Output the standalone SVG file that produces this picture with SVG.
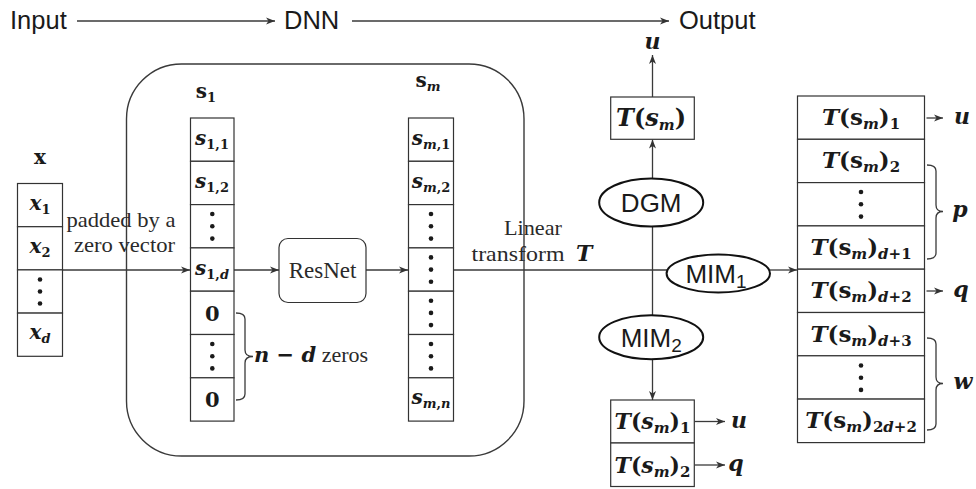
<svg xmlns="http://www.w3.org/2000/svg" width="976" height="489" viewBox="0 0 976 489">
<defs>
<marker id="ah" markerWidth="10" markerHeight="8" refX="9" refY="4" orient="auto" markerUnits="userSpaceOnUse">
<path d="M0,0.5 L9,4 L0,7.5 L2.5,4 z" fill="#333"/>
</marker>
<style>
.cell{fill:#fff;stroke:#333;stroke-width:1.2}
.ln{fill:none;stroke:#3a3a3a;stroke-width:1.3}
.arr{fill:none;stroke:#3a3a3a;stroke-width:1.3;marker-end:url(#ah)}
.ell{fill:#fff;stroke:#111;stroke-width:2}
.sans{font-family:"Liberation Sans",Arial,sans-serif;font-size:25.5px;fill:#1a1a1a}
.ser{font-family:"Liberation Serif","Times New Roman",serif;font-size:21px;fill:#2a2a2a}
.m{font-family:"DejaVu Serif",serif;font-weight:bold;font-style:italic;font-size:20px;fill:#1a1a1a}
.mb{font-family:"DejaVu Serif",serif;font-weight:bold;font-size:20px;fill:#1a1a1a}
.u{font-style:normal}
.s{font-size:13px}
.t{font-size:23px}
.ts{font-size:15px}
.lbl{font-size:22px}
.dot{fill:#1a1a1a}
</style>
</defs>
<rect width="976" height="489" fill="#fff"/>

<g id="connectors">
<line class="arr" x1="77" y1="21" x2="275" y2="21"/>
<line class="arr" x1="352" y1="21" x2="669" y2="21"/>
<line class="arr" x1="62.5" y1="270" x2="190" y2="270"/>
<line class="arr" x1="234" y1="270" x2="279" y2="270"/>
<line class="arr" x1="366" y1="270" x2="408" y2="270"/>
<line class="ln" x1="453.5" y1="270" x2="667" y2="270"/>
<line class="ln" x1="652.5" y1="226.5" x2="652.5" y2="315"/>
<line class="arr" x1="652.5" y1="178.5" x2="652.5" y2="139.5"/>
<line class="arr" x1="652.5" y1="97" x2="652.5" y2="55"/>
<line class="arr" x1="770" y1="270" x2="797" y2="270"/>
<line class="arr" x1="652.5" y1="359.5" x2="652.5" y2="400"/>
<line class="arr" x1="694.5" y1="421.5" x2="725" y2="421.5"/>
<line class="arr" x1="694.5" y1="465" x2="725" y2="465"/>
<line class="arr" x1="926.5" y1="118" x2="943" y2="118"/>
<line class="arr" x1="926.5" y1="291" x2="943" y2="291"/>
<path class="ln" d="M236,313 Q245,313 245,319 L245,350 Q245,356.5 253,356.5 Q245,356.5 245,363 L245,394 Q245,400 236,400"/>
<path class="ln" d="M927,165 Q936,165 936,171 L936,205 Q936,211.5 943,211.5 Q936,211.5 936,218 L936,253 Q936,259 927,259"/>
<path class="ln" d="M927,338 Q936,338 936,344 L936,377 Q936,383.5 943,383.5 Q936,383.5 936,390 L936,424 Q936,430 927,430"/>
</g>

<g id="flow-labels">
<text class="sans" x="10" y="29">Input</text>
<text class="sans" x="284" y="29">DNN</text>
<text class="sans" x="679" y="29">Output</text>
</g>

<g id="dnn-box">
<rect x="126.5" y="64" width="397.5" height="392" rx="55" ry="55" fill="none" stroke="#3a3a3a" stroke-width="1.4"/>
</g>

<g id="x-vector">
<text class="mb" x="40" y="164" text-anchor="middle">x</text>
<rect class="cell" x="17.5" y="183.5" width="45" height="43.2"/>
<rect class="cell" x="17.5" y="226.7" width="45" height="43.2"/>
<rect class="cell" x="17.5" y="269.9" width="45" height="43.2"/>
<rect class="cell" x="17.5" y="313.1" width="45" height="43.2"/>
<text class="m" x="40" y="210" text-anchor="middle">x<tspan class="s u" dy="4">1</tspan></text>
<text class="m" x="40" y="253" text-anchor="middle">x<tspan class="s u" dy="4">2</tspan></text>
<circle class="dot" cx="40" cy="279.5" r="2.3"/><circle class="dot" cx="40" cy="291.5" r="2.3"/><circle class="dot" cx="40" cy="303.5" r="2.3"/>
<text class="m" x="40" y="339" text-anchor="middle">x<tspan class="s" dy="4">d</tspan></text>
</g>

<g id="pad-label">
<text class="ser" x="121" y="227" text-anchor="middle" textLength="109" lengthAdjust="spacingAndGlyphs">padded by a</text>
<text class="ser" x="124.5" y="252" text-anchor="middle" textLength="101" lengthAdjust="spacingAndGlyphs">zero vector</text>
</g>

<g id="s1-vector">
<text class="mb" x="206" y="98" text-anchor="middle">s<tspan class="s" dy="4">1</tspan></text>
<rect class="cell" x="190.5" y="118" width="43.5" height="43.3"/>
<rect class="cell" x="190.5" y="161.3" width="43.5" height="43.3"/>
<rect class="cell" x="190.5" y="204.6" width="43.5" height="43.3"/>
<rect class="cell" x="190.5" y="247.9" width="43.5" height="43.3"/>
<rect class="cell" x="190.5" y="291.2" width="43.5" height="43.3"/>
<rect class="cell" x="190.5" y="334.5" width="43.5" height="43.3"/>
<rect class="cell" x="190.5" y="377.8" width="43.5" height="43.3"/>
<text class="m" x="212" y="145" text-anchor="middle">s<tspan class="s u" dy="4">1,1</tspan></text>
<text class="m" x="212" y="188" text-anchor="middle">s<tspan class="s u" dy="4">1,2</tspan></text>
<circle class="dot" cx="212.3" cy="214" r="2.3"/><circle class="dot" cx="212.3" cy="226.3" r="2.3"/><circle class="dot" cx="212.3" cy="238.6" r="2.3"/>
<text class="m" x="212" y="274.5" text-anchor="middle">s<tspan class="s u" dy="4">1,</tspan><tspan class="s">d</tspan></text>
<text class="mb" x="212.3" y="320.5" text-anchor="middle" style="font-size:21px">0</text>
<circle class="dot" cx="212.3" cy="344" r="2.3"/><circle class="dot" cx="212.3" cy="356.2" r="2.3"/><circle class="dot" cx="212.3" cy="368.4" r="2.3"/>
<text class="mb" x="212.3" y="407" text-anchor="middle" style="font-size:21px">0</text>
</g>

<g id="zeros-label">
<text class="m" x="254" y="362" style="font-size:21px">n − d<tspan class="ser" style="font-size:22px;font-weight:normal;font-style:normal"> zeros</tspan></text>
</g>

<g id="resnet">
<rect x="279" y="238.5" width="87" height="64" rx="9" ry="9" fill="#fff" stroke="#333" stroke-width="1.2"/>
<text class="ser" x="322.5" y="278" text-anchor="middle" style="font-size:23px">ResNet</text>
</g>

<g id="sm-vector">
<text class="mb" x="428" y="87" text-anchor="middle">s<tspan class="s" style="font-style:italic" dy="4">m</tspan></text>
<rect class="cell" x="408.5" y="118" width="45" height="43.3"/>
<rect class="cell" x="408.5" y="161.3" width="45" height="43.3"/>
<rect class="cell" x="408.5" y="204.6" width="45" height="43.3"/>
<rect class="cell" x="408.5" y="247.9" width="45" height="43.3"/>
<rect class="cell" x="408.5" y="291.2" width="45" height="43.3"/>
<rect class="cell" x="408.5" y="334.5" width="45" height="43.3"/>
<rect class="cell" x="408.5" y="377.8" width="45" height="43.3"/>
<text class="m" x="431" y="145" text-anchor="middle">s<tspan class="s" dy="4">m</tspan><tspan class="s u">,1</tspan></text>
<text class="m" x="431" y="188" text-anchor="middle">s<tspan class="s" dy="4">m</tspan><tspan class="s u">,2</tspan></text>
<circle class="dot" cx="431" cy="214" r="2.3"/><circle class="dot" cx="431" cy="226.3" r="2.3"/><circle class="dot" cx="431" cy="238.6" r="2.3"/>
<circle class="dot" cx="431" cy="257.4" r="2.3"/><circle class="dot" cx="431" cy="269.6" r="2.3"/><circle class="dot" cx="431" cy="281.8" r="2.3"/>
<circle class="dot" cx="431" cy="300.7" r="2.3"/><circle class="dot" cx="431" cy="312.9" r="2.3"/><circle class="dot" cx="431" cy="325.1" r="2.3"/>
<circle class="dot" cx="431" cy="344" r="2.3"/><circle class="dot" cx="431" cy="356.2" r="2.3"/><circle class="dot" cx="431" cy="368.4" r="2.3"/>
<text class="m" x="431" y="404" text-anchor="middle">s<tspan class="s" dy="4">m</tspan><tspan class="s u">,</tspan><tspan class="s">n</tspan></text>
</g>

<g id="transform-label">
<text class="ser" x="533" y="235" text-anchor="middle" textLength="58" lengthAdjust="spacingAndGlyphs">Linear</text>
<text class="ser" x="518" y="261" text-anchor="middle" textLength="93" lengthAdjust="spacingAndGlyphs">transform</text>
<text class="m" x="576" y="261" style="font-size:22px">T</text>
</g>

<g id="tsm-box">
<text class="m lbl" x="652.5" y="49" text-anchor="middle">u</text>
<rect class="cell" x="610.7" y="97" width="83.6" height="42.3"/>
<text class="m" x="651" y="126" text-anchor="middle" style="font-size:24px">T<tspan class="u">(</tspan>s<tspan class="ts" dy="4">m</tspan><tspan class="u" dy="-4">)</tspan></text>
</g>

<g id="dgm">
<ellipse class="ell" cx="651.2" cy="202.5" rx="52" ry="24"/>
<text class="sans" x="651.2" y="212" text-anchor="middle" style="font-size:26px">DGM</text>
</g>

<g id="mim1">
<ellipse class="ell" cx="718.3" cy="273.5" rx="51.7" ry="19"/>
<text class="sans" x="716" y="283" text-anchor="middle" style="font-size:26px">MIM<tspan style="font-size:19px" dy="5">1</tspan></text>
</g>

<g id="mim2">
<ellipse class="ell" cx="651.2" cy="337.2" rx="52" ry="22"/>
<text class="sans" x="651.2" y="347" text-anchor="middle" style="font-size:26px">MIM<tspan style="font-size:19px" dy="5">2</tspan></text>
</g>

<g id="bottom-box">
<rect class="cell" x="610.7" y="400" width="83.6" height="43"/>
<rect class="cell" x="610.7" y="443" width="83.6" height="43.5"/>
<text class="m" x="652.5" y="429" text-anchor="middle" style="font-size:22px">T<tspan class="u">(</tspan>s<tspan class="ts" dy="4">m</tspan><tspan class="u" dy="-4">)</tspan><tspan class="ts u" dy="4">1</tspan></text>
<text class="m" x="652.5" y="472.5" text-anchor="middle" style="font-size:22px">T<tspan class="u">(</tspan>s<tspan class="ts" dy="4">m</tspan><tspan class="u" dy="-4">)</tspan><tspan class="ts u" dy="4">2</tspan></text>
<text class="m lbl" x="739" y="428" text-anchor="middle">u</text>
<text class="m lbl" x="736" y="471" text-anchor="middle">q</text>
</g>

<g id="right-table">
<rect class="cell" x="797.5" y="96" width="127" height="43.3"/>
<rect class="cell" x="797.5" y="139.3" width="127" height="43.3"/>
<rect class="cell" x="797.5" y="182.6" width="127" height="43.3"/>
<rect class="cell" x="797.5" y="225.9" width="127" height="43.3"/>
<rect class="cell" x="797.5" y="269.2" width="127" height="43.3"/>
<rect class="cell" x="797.5" y="312.5" width="127" height="43.3"/>
<rect class="cell" x="797.5" y="355.8" width="127" height="43.3"/>
<rect class="cell" x="797.5" y="399.1" width="127" height="43.5"/>
<text class="m t" x="861" y="125" text-anchor="middle">T<tspan class="u">(s</tspan><tspan class="ts" dy="4">m</tspan><tspan class="u" dy="-4">)</tspan><tspan class="ts u" dy="4">1</tspan></text>
<text class="m t" x="861" y="168" text-anchor="middle">T<tspan class="u">(s</tspan><tspan class="ts" dy="4">m</tspan><tspan class="u" dy="-4">)</tspan><tspan class="ts u" dy="4">2</tspan></text>
<circle class="dot" cx="861" cy="192" r="2.3"/><circle class="dot" cx="861" cy="204.3" r="2.3"/><circle class="dot" cx="861" cy="216.6" r="2.3"/>
<text class="m t" x="861" y="254.5" text-anchor="middle">T<tspan class="u">(s</tspan><tspan class="ts" dy="4">m</tspan><tspan class="u" dy="-4">)</tspan><tspan class="ts" dy="4">d</tspan><tspan class="ts u">+1</tspan></text>
<text class="m t" x="861" y="298" text-anchor="middle">T<tspan class="u">(s</tspan><tspan class="ts" dy="4">m</tspan><tspan class="u" dy="-4">)</tspan><tspan class="ts" dy="4">d</tspan><tspan class="ts u">+2</tspan></text>
<text class="m t" x="861" y="341.5" text-anchor="middle">T<tspan class="u">(s</tspan><tspan class="ts" dy="4">m</tspan><tspan class="u" dy="-4">)</tspan><tspan class="ts" dy="4">d</tspan><tspan class="ts u">+3</tspan></text>
<circle class="dot" cx="861" cy="365.5" r="2.3"/><circle class="dot" cx="861" cy="377.7" r="2.3"/><circle class="dot" cx="861" cy="389.9" r="2.3"/>
<text class="m t" x="861" y="428" text-anchor="middle">T<tspan class="u">(s</tspan><tspan class="ts" dy="4">m</tspan><tspan class="u" dy="-4">)</tspan><tspan class="ts u" dy="4">2</tspan><tspan class="ts">d</tspan><tspan class="ts u">+2</tspan></text>
<text class="m lbl" x="962" y="124" text-anchor="middle">u</text>
<text class="m lbl" x="960" y="217" text-anchor="middle">p</text>
<text class="m lbl" x="961" y="297" text-anchor="middle">q</text>
<text class="m lbl" x="963" y="389" text-anchor="middle">w</text>
</g>
</svg>
